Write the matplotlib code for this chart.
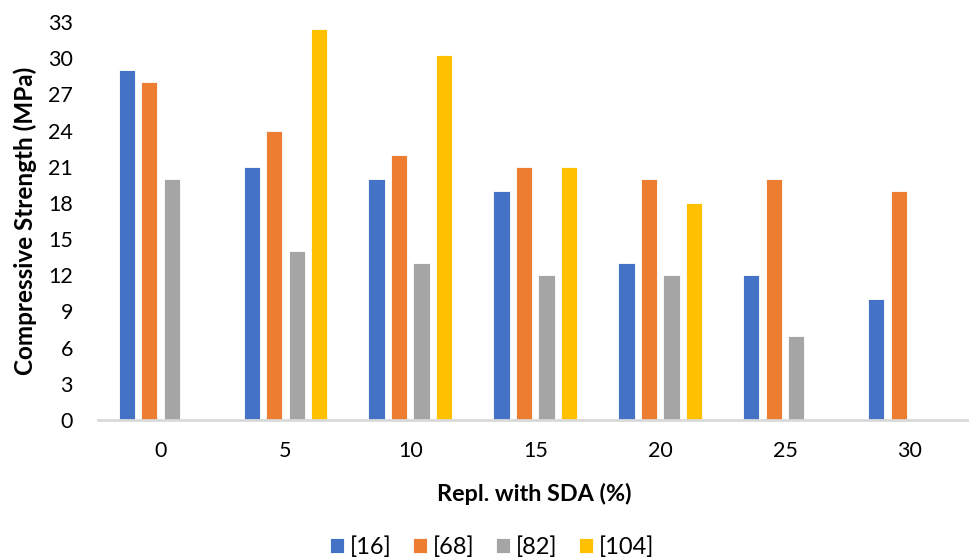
import numpy as np
import matplotlib
matplotlib.use("Agg")
import matplotlib.pyplot as plt

plt.rcParams['font.family'] = ['Lato', 'DejaVu Sans']

categories = ["0", "5", "10", "15", "20", "25", "30"]
series_names = ["[16]", "[68]", "[82]", "[104]"]
s16 = [29, 21, 20, 19, 13, 12, 10]
s68 = [28, 24, 22, 21, 20, 20, 19]
s82 = [20, 14, 13, 12, 12, 7, np.nan]
s104 = [np.nan, 32.4, 30.3, 21, 18, np.nan, np.nan]
yticks = list(range(0, 34, 3))

colors = ["#4472C4", "#ED7D31", "#A5A5A5", "#FFC000"]

fig = plt.figure(figsize=(9.7, 5.59), dpi=100)
ax = fig.add_axes([98 / 970, (559 - 420) / 559, 872 / 970, 398 / 559])

x = np.arange(len(categories))
pitch = 0.18
width = 0.13
for i, (vals, name, c) in enumerate(zip([s16, s68, s82, s104], series_names, colors)):
    offs = (i - 1.5) * pitch
    ax.bar(x + offs, vals, width=width, color=c, label=name,
           edgecolor="white", linewidth=0.6, zorder=2)

ax.set_xlim(-0.5, 6.48)
ax.set_ylim(0, 33)
ax.set_yticks(yticks)
ax.set_xticks(x)
ax.set_xticklabels(categories)

for side in ["top", "right", "left"]:
    ax.spines[side].set_visible(False)
ax.spines["bottom"].set_color("#D9D9D9")
ax.spines["bottom"].set_linewidth(2)
ax.spines["bottom"].set_zorder(3)
ax.tick_params(axis="both", length=0, labelsize=15.5, colors="#000000")
ax.tick_params(axis="y", pad=18)
ax.tick_params(axis="x", pad=15)

ax.set_ylabel("Compressive Strength (MPa)", fontsize=17.5, fontweight="bold")
ax.yaxis.set_label_coords(-0.0837, 0.5)
ax.yaxis.label.set_va("center")
ax.set_xlabel("Repl. with SDA (%)", fontsize=16.8, fontweight="bold")
ax.xaxis.set_label_coords(0.5006, -0.186)
ax.xaxis.label.set_va("center")

leg = fig.legend(loc="center", bbox_to_anchor=(492 / 970, 1 - 547 / 559), ncol=4,
                 frameon=False, fontsize=17, handlelength=0.6, handleheight=0.6,
                 handletextpad=0.25, columnspacing=0.9)

fig.savefig("out.png", dpi=100)
